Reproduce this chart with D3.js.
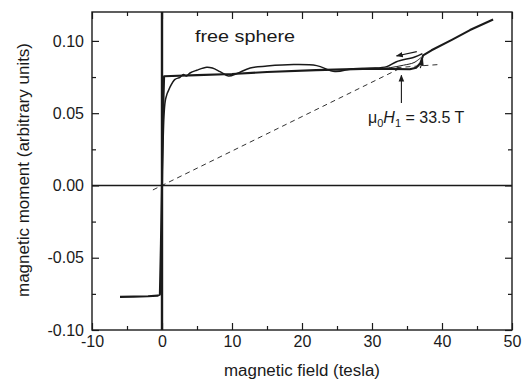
<!DOCTYPE html>
<html>
<head>
<meta charset="utf-8">
<script src="https://cdn.jsdelivr.net/npm/d3@7"></script>
<style>
  body { margin: 0; background: #fff; }
  text { font-family: "Liberation Sans", Arial, sans-serif; fill: #1a1a1a; }
</style>
</head>
<body>
<svg id="chart" width="524" height="384"></svg>
<script>
// field (tesla), moment (arbitrary units)
const mainSweep = [
  [-6.0, -0.0771], [-4.0, -0.0769], [-2.0, -0.0766], [-0.6, -0.0762], [-0.3, -0.0755],
  [-0.15, -0.04], [0.0, 0.0], [0.15, 0.05], [0.3, 0.0755], [5.0, 0.0763], [10.0, 0.0771],
  [15.0, 0.0785], [22.0, 0.0798], [30.0, 0.0808], [35.4, 0.0804], [36.3, 0.0815],
  [36.9, 0.0845], [37.3, 0.0900], [38.5, 0.0935], [41.4, 0.1007], [44.0, 0.1075],
  [47.3, 0.1148]
];
const wavySweep = [
  [0.0, 0.0], [0.15, 0.03], [0.52, 0.060], [1.14, 0.068], [1.86, 0.0734], [2.57, 0.0748],
  [3.05, 0.0768], [3.5, 0.0757], [4.0, 0.0778], [4.95, 0.0797], [6.4, 0.0818], [7.2, 0.0812],
  [8.3, 0.0787], [9.5, 0.0757], [10.7, 0.0774], [12.6, 0.0813], [15.0, 0.0826], [18.8, 0.0836],
  [22.1, 0.0829], [24.7, 0.0788], [27.3, 0.0808], [30.0, 0.0811], [32.1, 0.0822],
  [33.5, 0.0856], [36.1, 0.0889], [37.2, 0.0912]
];
const loopSweep = [
  [31.0, 0.0808], [32.6, 0.0815], [34.5, 0.0832], [36.0, 0.0850], [37.0, 0.0885]
];
const guideDiagonal = [[-1.3, -0.0031], [34.0, 0.0810]];
const guideFlat = [[33.5, 0.0815], [39.4, 0.0836]];

const arrowDown = [[36.4, 0.0926], [33.5, 0.0896]];  // down sweep direction
const arrowUp = [[36.9, 0.0812], [37.25, 0.0872]];  // up sweep direction
const arrowH1 = [[34.2, 0.0570], [34.2, 0.0762]];

const xTicks = [-10, 0, 10, 20, 30, 40, 50];
const xMinor = [-5, 5, 15, 25, 35, 45];
const yTicks = [-0.10, -0.05, 0.00, 0.05, 0.10];
const yMinor = [-0.075, -0.025, 0.025, 0.075];

function buildPlot(ref, width, height) {
  const svg = d3.select(ref);
  const margin = {top: 12, right: 12, bottom: 54, left: 92};
  const innerWidth = width - margin.left - margin.right;
  const innerHeight = height - margin.top - margin.bottom;

  const x = d3.scaleLinear().domain([-10, 50]).range([0, innerWidth]);
  const y = d3.scaleLinear().domain([-0.10, 0.12]).range([innerHeight, 0]);

  const g = svg.append('g')
    .attr('transform', `translate(${margin.left}, ${margin.top})`);

  const ink = '#1a1a1a';

  // ticks on all four sides, pointing inward
  const addAxis = (axis, tf, labels) => {
    const a = g.append('g').attr('transform', tf).call(axis);
    a.select('.domain').remove();
    a.selectAll('.tick line').attr('stroke', ink).attr('stroke-width', 1.2);
    a.selectAll('text').style('font-size', '16px')
      .style('font-family', '"Liberation Sans", Arial, sans-serif').attr('fill', ink);
    if (!labels) a.selectAll('text').remove();
    return a;
  };
  // plain hyphen for negatives, like the original
  const xFmt = d => String(d);
  const yFmt = d => d.toFixed(2);

  addAxis(d3.axisBottom(x).tickValues(xTicks).tickFormat(xFmt).tickSize(-7).tickPadding(6), `translate(0,${innerHeight})`, true);
  addAxis(d3.axisBottom(x).tickValues(xMinor).tickSize(-4), `translate(0,${innerHeight})`, false);
  addAxis(d3.axisTop(x).tickValues(xTicks).tickSize(-7), 'translate(0,0)', false);
  addAxis(d3.axisTop(x).tickValues(xMinor).tickSize(-4), 'translate(0,0)', false);
  addAxis(d3.axisLeft(y).tickValues(yTicks).tickFormat(yFmt).tickSize(-7).tickPadding(8), 'translate(0,0)', true);
  addAxis(d3.axisLeft(y).tickValues(yMinor).tickSize(-4), 'translate(0,0)', false);
  addAxis(d3.axisRight(y).tickValues(yTicks).tickSize(-7), `translate(${innerWidth},0)`, false);
  addAxis(d3.axisRight(y).tickValues(yMinor).tickSize(-4), `translate(${innerWidth},0)`, false);

  // frame
  g.append('rect')
    .attr('width', innerWidth).attr('height', innerHeight)
    .attr('fill', 'none').attr('stroke', ink).attr('stroke-width', 1.4);

  // zero lines
  g.append('line')
    .attr('x1', 0).attr('x2', innerWidth).attr('y1', y(0)).attr('y2', y(0))
    .attr('stroke', ink).attr('stroke-width', 1.6);
  g.append('line')
    .attr('x1', x(0)).attr('x2', x(0)).attr('y1', 0).attr('y2', innerHeight)
    .attr('stroke', ink).attr('stroke-width', 2.4);

  const line = d3.line().x(d => x(d[0])).y(d => y(d[1]));
  const smooth = d3.line().x(d => x(d[0])).y(d => y(d[1])).curve(d3.curveCatmullRom.alpha(0.5));

  // guide lines
  [guideDiagonal, guideFlat].forEach(seg => {
    g.append('path').attr('d', line(seg))
      .attr('fill', 'none').attr('stroke', ink).attr('stroke-width', 0.9)
      .attr('stroke-dasharray', '5,4');
  });

  g.append('path').attr('d', smooth(loopSweep))
    .attr('fill', 'none').attr('stroke', ink).attr('stroke-width', 1.0);
  g.append('path').attr('d', smooth(wavySweep))
    .attr('fill', 'none').attr('stroke', ink).attr('stroke-width', 1.5);
  g.append('path').attr('d', line(mainSweep))
    .attr('fill', 'none').attr('stroke', ink).attr('stroke-width', 2.1)
    .attr('stroke-linejoin', 'round');

  // arrows
  svg.append('defs').append('marker')
    .attr('id', 'head').attr('viewBox', '0 0 10 10')
    .attr('refX', 9).attr('refY', 5)
    .attr('markerWidth', 7).attr('markerHeight', 7)
    .attr('markerUnits', 'userSpaceOnUse')
    .attr('orient', 'auto')
    .append('path').attr('d', 'M0,1 L10,5 L0,9 Z').attr('fill', ink);

  [arrowDown, arrowUp, arrowH1].forEach(seg => {
    g.append('path').attr('d', line(seg))
      .attr('fill', 'none').attr('stroke', ink).attr('stroke-width', 1.1)
      .attr('marker-end', 'url(#head)');
  });

  // texts
  svg.append('text')
    .attr('x', 195).attr('y', 41.5)
    .attr('textLength', 100).attr('lengthAdjust', 'spacingAndGlyphs')
    .style('font-size', '17px')
    .text('free sphere');

  const ann = svg.append('text')
    .attr('x', 368).attr('y', 123)
    .style('font-size', '16px');
  ann.append('tspan').text('\u03bc');
  ann.append('tspan').attr('dy', 4).style('font-size', '11px').text('0');
  ann.append('tspan').attr('dy', -4).style('font-style', 'italic').text('H');
  ann.append('tspan').attr('dy', 4).style('font-size', '11px').text('1');
  ann.append('tspan').attr('dy', -4).text(' = 33.5 T');

  svg.append('text')
    .attr('x', 302).attr('y', 376)
    .attr('text-anchor', 'middle')
    .attr('textLength', 156).attr('lengthAdjust', 'spacingAndGlyphs')
    .style('font-size', '16px')
    .text('magnetic field (tesla)');

  svg.append('text')
    .attr('transform', 'translate(29,170) rotate(-90)')
    .attr('text-anchor', 'middle')
    .attr('textLength', 254).attr('lengthAdjust', 'spacingAndGlyphs')
    .style('font-size', '16px')
    .text('magnetic moment (arbitrary units)');
}

buildPlot(document.getElementById('chart'), 524, 384);
</script>
</body>
</html>
